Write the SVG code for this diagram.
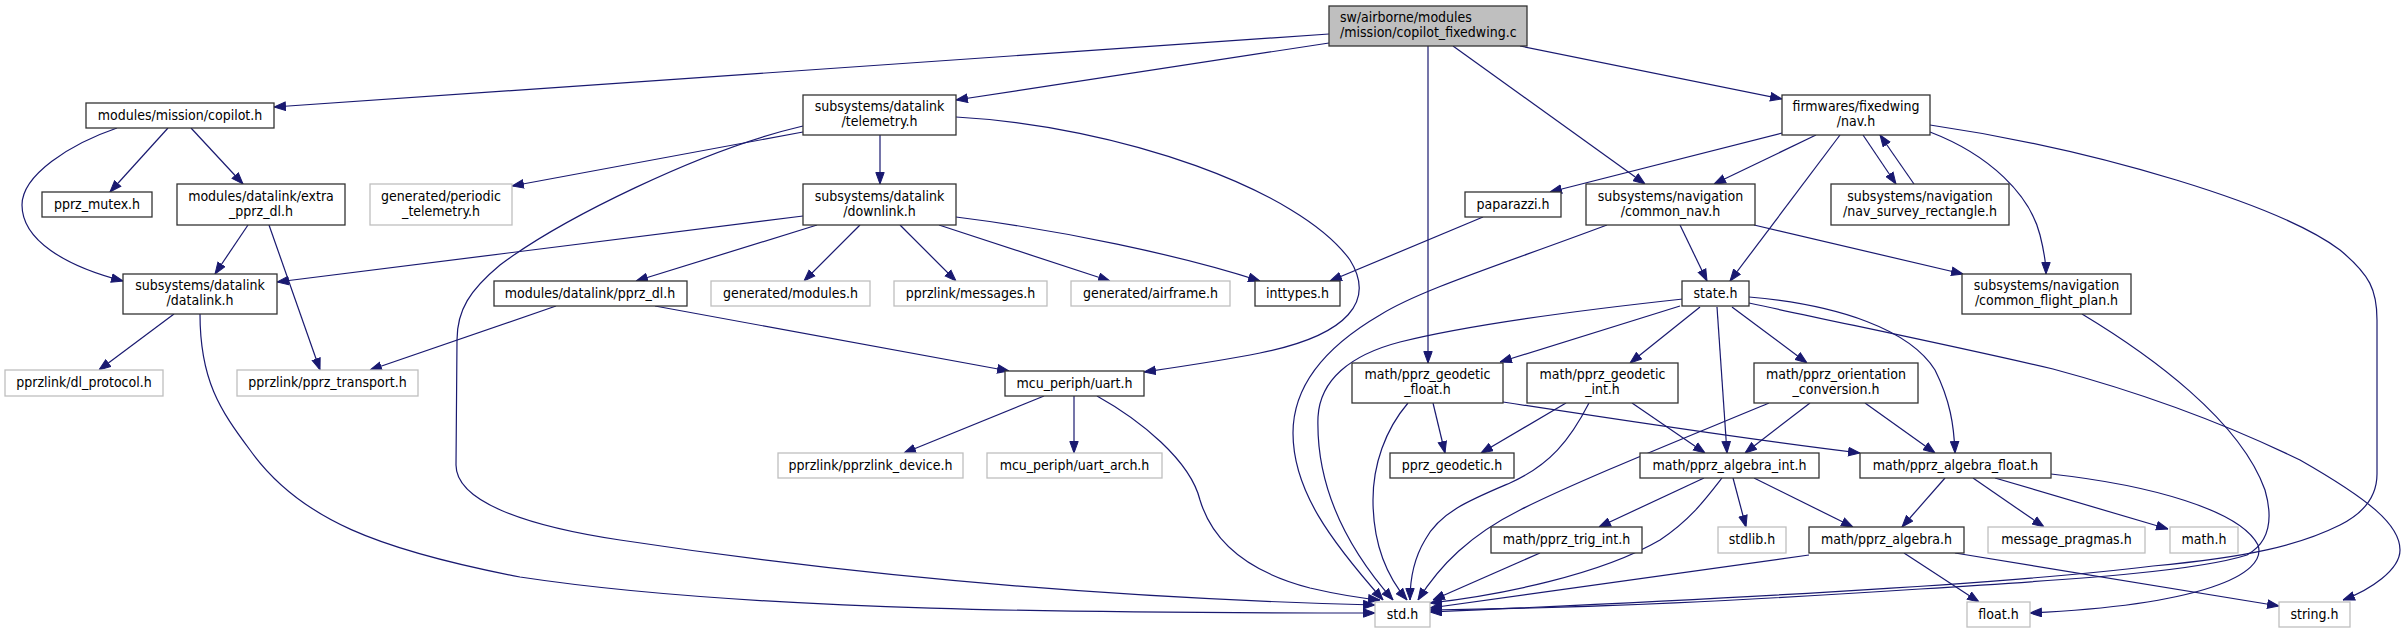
<svg xmlns="http://www.w3.org/2000/svg" width="2407" height="633" viewBox="0 0 2407 633">
<style>
text{font-family:"DejaVu Sans Condensed","DejaVu Sans",sans-serif;font-stretch:condensed;font-size:14px;fill:#000;text-anchor:middle}
.n rect{fill:#fff;stroke:#333;stroke-width:1.3}
.g rect{fill:#fff;stroke:#bfbfbf;stroke-width:1.3}
.r rect{fill:#bfbfbf;stroke:#333;stroke-width:1.3}
.r text{text-anchor:start}
#edges path{fill:none;stroke:#191970;stroke-width:1.2;marker-end:url(#a)}
</style>
<defs><marker id="a" markerWidth="12" markerHeight="10" refX="12" refY="5" orient="auto" markerUnits="userSpaceOnUse"><path d="M0.5,0.8L12,5L0.5,9.2z" fill="#191970" stroke="#191970" stroke-width="1"/></marker></defs>
<rect width="2407" height="633" fill="#fff"/>
<g id="edges">
<path d="M1329,34L274,107"/>
<path d="M1329,43L956,100"/>
<path d="M1428,46L1428,363"/>
<path d="M1453,46L1645,184"/>
<path d="M1520,46L1782,99"/>
<path d="M168,128L110,192"/>
<path d="M191,128L243,184"/>
<path d="M117,128C70,144 22,175 22,205C22,240 65,266 123,281"/>
<path d="M248,225L215,274"/>
<path d="M269,225L320,370"/>
<path d="M174,314L99,370"/>
<path d="M200,314C200,380 220,410 250,450C300,520 380,550 520,577C750,612 1100,613 1375,613"/>
<path d="M803,132L512,186"/>
<path d="M803,126C700,150 560,220 500,265C470,290 457,310 457,340L456,465C456,500 520,525 620,540C850,575 1100,598 1375,605"/>
<path d="M880,135L880,184"/>
<path d="M956,117C1120,126 1300,190 1350,260C1375,300 1350,335 1260,353C1220,361 1185,366 1144,372"/>
<path d="M803,216L277,282"/>
<path d="M817,225L636,281"/>
<path d="M860,225L804,281"/>
<path d="M900,225L956,281"/>
<path d="M939,225L1110,281"/>
<path d="M956,217C1060,230 1180,255 1260,281"/>
<path d="M556,306L370,370"/>
<path d="M655,306L1009,371"/>
<path d="M1044,396L904,453"/>
<path d="M1074,396L1074,453"/>
<path d="M1097,396C1140,420 1190,460 1200,500C1215,550 1260,575 1310,588C1340,595 1360,598 1380,600"/>
<path d="M1483,217L1330,281"/>
<path d="M1782,133L1550,192"/>
<path d="M1816,135L1714,184"/>
<path d="M1840,135L1730,281"/>
<path d="M1863,135L1896,184"/>
<path d="M1914,184L1880,135"/>
<path d="M1930,132C1990,155 2030,195 2040,235C2045,255 2046,265 2046,274"/>
<path d="M1930,125C2100,150 2280,205 2340,250C2370,275 2377,290 2377,320L2377,474C2377,500 2360,515 2340,525C2300,545 2250,557 2153,566C2000,585 1700,600 1430,612"/>
<path d="M2082,314C2150,355 2240,420 2265,490C2275,525 2265,545 2247,555C2200,570 2100,578 1920,589C1750,600 1600,608 1430,610"/>
<path d="M1680,225L1707,281"/>
<path d="M1607,225C1500,265 1420,290 1380,315C1320,350 1293,390 1293,433C1293,490 1330,540 1383,600"/>
<path d="M1754,225L1963,274"/>
<path d="M1680,306L1500,362"/>
<path d="M1683,299C1600,308 1480,322 1400,342C1350,355 1320,380 1318,417C1316,480 1340,540 1393,600"/>
<path d="M1700,307L1630,363"/>
<path d="M1717,307L1727,453"/>
<path d="M1732,307L1807,363"/>
<path d="M1749,297C1840,305 1910,330 1935,370C1950,400 1954,425 1955,453"/>
<path d="M1749,303C1850,325 1950,345 2053,369C2150,395 2230,426 2300,460C2370,500 2400,525 2400,550C2400,570 2370,590 2343,600"/>
<path d="M1408,403C1385,430 1373,465 1373,500C1373,550 1390,580 1407,600"/>
<path d="M1433,403L1445,453"/>
<path d="M1503,402C1620,420 1750,440 1860,453"/>
<path d="M1566,403L1481,453"/>
<path d="M1632,403L1705,453"/>
<path d="M1589,403C1570,440 1550,465 1510,483C1470,500 1440,512 1425,540C1413,560 1410,580 1410,600"/>
<path d="M1810,403L1745,453"/>
<path d="M1865,403L1935,453"/>
<path d="M1769,403C1680,440 1580,480 1520,510C1470,535 1440,565 1418,600"/>
<path d="M1704,478L1599,527"/>
<path d="M1733,478L1746,527"/>
<path d="M1754,478L1853,527"/>
<path d="M1722,478C1705,500 1690,520 1660,540C1600,575 1500,595 1430,603"/>
<path d="M1540,553L1433,600"/>
<path d="M1809,555L1430,608"/>
<path d="M1945,478L1902,527"/>
<path d="M1973,478L2044,527"/>
<path d="M1995,478L2168,529"/>
<path d="M2051,474C2150,485 2240,510 2258,545C2268,575 2200,605 2030,613"/>
<path d="M1904,553L1979,602"/>
<path d="M1955,553L2279,606"/>
</g>
<g id="root" class="r"><rect x="1329" y="6" width="198" height="40"/><text x="1340" y="22">sw/airborne/modules</text><text x="1340" y="37">/mission/copilot_fixedwing.c</text></g>
<g id="copilot" class="n"><rect x="86" y="103" width="188" height="25"/><text x="180" y="119.5">modules/mission/copilot.h</text></g>
<g id="pprz_mutex" class="n"><rect x="42" y="192" width="110" height="25"/><text x="97" y="208.5">pprz_mutex.h</text></g>
<g id="extra_pprz_dl" class="n"><rect x="177" y="184" width="168" height="41"/><text x="261" y="200.5">modules/datalink/extra</text><text x="261" y="215.5">_pprz_dl.h</text></g>
<g id="periodic_telemetry" class="g"><rect x="370" y="184" width="142" height="41"/><text x="441" y="200.5">generated/periodic</text><text x="441" y="215.5">_telemetry.h</text></g>
<g id="datalink" class="n"><rect x="123" y="274" width="154" height="40"/><text x="200" y="290">subsystems/datalink</text><text x="200" y="305">/datalink.h</text></g>
<g id="pprz_dl" class="n"><rect x="494" y="281" width="193" height="25"/><text x="590" y="297.5">modules/datalink/pprz_dl.h</text></g>
<g id="telemetry" class="n"><rect x="803" y="95" width="153" height="40"/><text x="879.5" y="111">subsystems/datalink</text><text x="879.5" y="126">/telemetry.h</text></g>
<g id="downlink" class="n"><rect x="803" y="184" width="153" height="41"/><text x="879.5" y="200.5">subsystems/datalink</text><text x="879.5" y="215.5">/downlink.h</text></g>
<g id="modules" class="g"><rect x="711" y="281" width="159" height="25"/><text x="790.5" y="297.5">generated/modules.h</text></g>
<g id="messages" class="g"><rect x="894" y="281" width="153" height="25"/><text x="970.5" y="297.5">pprzlink/messages.h</text></g>
<g id="airframe" class="g"><rect x="1071" y="281" width="159" height="25"/><text x="1150.5" y="297.5">generated/airframe.h</text></g>
<g id="inttypes" class="n"><rect x="1255" y="281" width="85" height="25"/><text x="1297.5" y="297.5">inttypes.h</text></g>
<g id="nav" class="n"><rect x="1782" y="95" width="148" height="40"/><text x="1856" y="111">firmwares/fixedwing</text><text x="1856" y="126">/nav.h</text></g>
<g id="paparazzi" class="n"><rect x="1465" y="192" width="96" height="25"/><text x="1513" y="208.5">paparazzi.h</text></g>
<g id="common_nav" class="n"><rect x="1586" y="184" width="169" height="41"/><text x="1670.5" y="200.5">subsystems/navigation</text><text x="1670.5" y="215.5">/common_nav.h</text></g>
<g id="state" class="n"><rect x="1682" y="281" width="67" height="25"/><text x="1715.5" y="297.5">state.h</text></g>
<g id="nav_survey_rectangle" class="n"><rect x="1831" y="184" width="178" height="41"/><text x="1920" y="200.5">subsystems/navigation</text><text x="1920" y="215.5">/nav_survey_rectangle.h</text></g>
<g id="common_flight_plan" class="n"><rect x="1962" y="274" width="169" height="40"/><text x="2046.5" y="290">subsystems/navigation</text><text x="2046.5" y="305">/common_flight_plan.h</text></g>
<g id="dl_protocol" class="g"><rect x="5" y="370" width="158" height="26"/><text x="84" y="387">pprzlink/dl_protocol.h</text></g>
<g id="pprz_transport" class="g"><rect x="237" y="370" width="181" height="26"/><text x="327.5" y="387">pprzlink/pprz_transport.h</text></g>
<g id="uart" class="n"><rect x="1005" y="371" width="139" height="25"/><text x="1074.5" y="387.5">mcu_periph/uart.h</text></g>
<g id="pprzlink_device" class="g"><rect x="778" y="453" width="185" height="25"/><text x="870.5" y="469.5">pprzlink/pprzlink_device.h</text></g>
<g id="uart_arch" class="g"><rect x="987" y="453" width="175" height="25"/><text x="1074.5" y="469.5">mcu_periph/uart_arch.h</text></g>
<g id="geodetic_float" class="n"><rect x="1352" y="363" width="151" height="40"/><text x="1427.5" y="379">math/pprz_geodetic</text><text x="1427.5" y="394">_float.h</text></g>
<g id="geodetic_int" class="n"><rect x="1527" y="363" width="151" height="40"/><text x="1602.5" y="379">math/pprz_geodetic</text><text x="1602.5" y="394">_int.h</text></g>
<g id="orientation" class="n"><rect x="1754" y="363" width="164" height="40"/><text x="1836" y="379">math/pprz_orientation</text><text x="1836" y="394">_conversion.h</text></g>
<g id="pprz_geodetic" class="n"><rect x="1390" y="453" width="124" height="25"/><text x="1452" y="469.5">pprz_geodetic.h</text></g>
<g id="algebra_int" class="n"><rect x="1640" y="453" width="179" height="25"/><text x="1729.5" y="469.5">math/pprz_algebra_int.h</text></g>
<g id="trig_int" class="n"><rect x="1491" y="527" width="151" height="26"/><text x="1566.5" y="544">math/pprz_trig_int.h</text></g>
<g id="stdlib" class="g"><rect x="1718" y="527" width="68" height="26"/><text x="1752" y="544">stdlib.h</text></g>
<g id="std" class="g"><rect x="1375" y="602" width="55" height="25"/><text x="1402.5" y="618.5">std.h</text></g>
<g id="algebra_float" class="n"><rect x="1860" y="453" width="191" height="25"/><text x="1955.5" y="469.5">math/pprz_algebra_float.h</text></g>
<g id="pprz_algebra" class="n"><rect x="1809" y="527" width="155" height="26"/><text x="1886.5" y="544">math/pprz_algebra.h</text></g>
<g id="message_pragmas" class="g"><rect x="1988" y="527" width="157" height="26"/><text x="2066.5" y="544">message_pragmas.h</text></g>
<g id="math" class="g"><rect x="2170" y="527" width="68" height="26"/><text x="2204" y="544">math.h</text></g>
<g id="float" class="g"><rect x="1967" y="602" width="63" height="25"/><text x="1998.5" y="618.5">float.h</text></g>
<g id="string" class="g"><rect x="2279" y="602" width="71" height="25"/><text x="2314.5" y="618.5">string.h</text></g>
</svg>
